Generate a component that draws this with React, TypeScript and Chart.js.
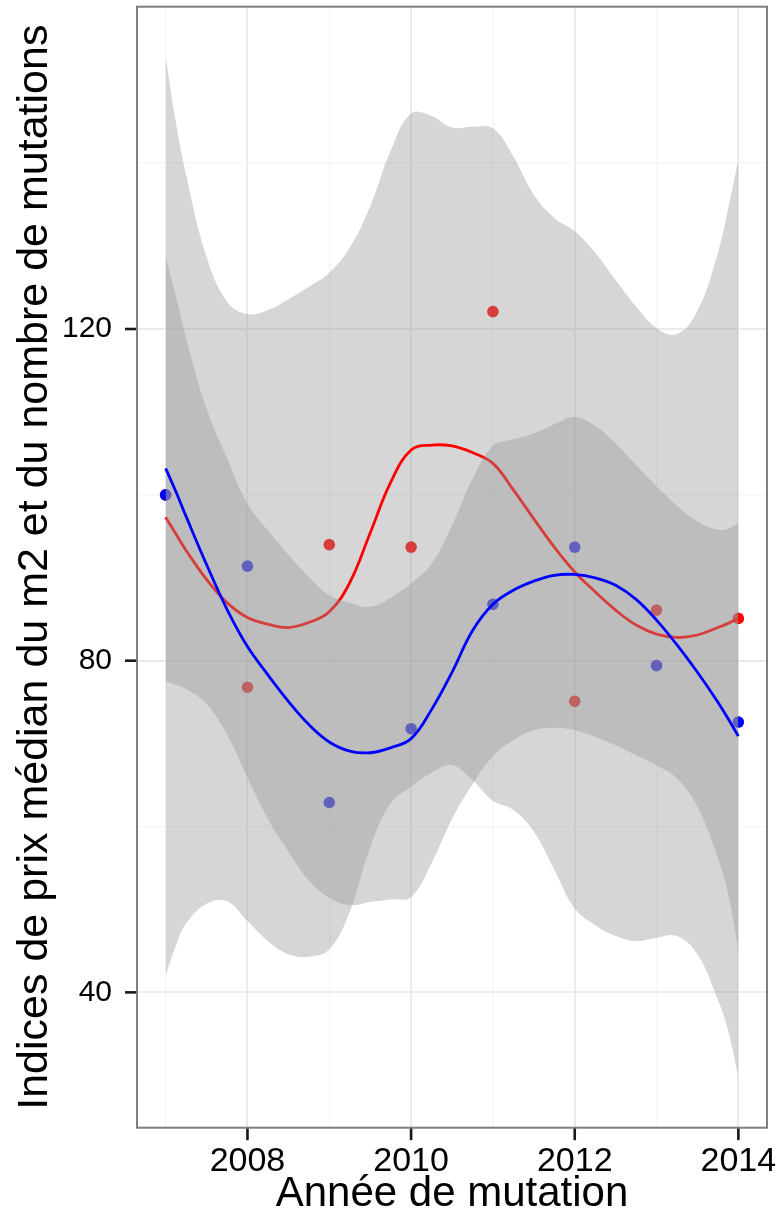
import React, { useEffect, useRef } from 'react';
import { Chart, registerables } from 'chart.js';

Chart.register(...registerables);

// ---- Data ----
const YEARS = [2007, 2008, 2009, 2010, 2011, 2012, 2013, 2014];
const SERIES_RED = [100, 76.8, 94.0, 93.7, 122.1, 75.1, 86.1, 85.1];
const SERIES_BLUE = [100, 91.4, 62.9, 71.8, 86.8, 93.7, 79.4, 72.6];

// x positions where the smoothed curves and their bands were read
const SMOOTH_X = [2007, 2007.125, 2007.25, 2007.5, 2007.75, 2008, 2008.25, 2008.5, 2008.75, 2009, 2009.25, 2009.5, 2009.75, 2010, 2010.25, 2010.5, 2010.75, 2011, 2011.25, 2011.5, 2011.75, 2012, 2012.25, 2012.5, 2012.75, 2013, 2013.25, 2013.5, 2013.75, 2013.875, 2014];

const RED_FIT = [97.3, 95.3, 93.3, 89.8, 87.0, 85.2, 84.4, 84.0, 84.6, 85.9, 89.4, 95.4, 101.5, 105.4, 106.0, 105.9, 105.1, 103.8, 100.6, 97.1, 93.7, 90.7, 88.3, 86.1, 84.3, 83.2, 82.8, 83.1, 84.0, 84.5, 85.1];
const RED_UPPER = [152.8, 144.9, 138.6, 128.7, 123.3, 121.8, 122.3, 123.6, 125.1, 126.8, 129.8, 134.8, 141.5, 146.0, 145.7, 144.3, 144.4, 144.2, 140.8, 136.2, 133.4, 131.8, 129.2, 125.9, 122.7, 120.1, 119.4, 122.2, 129.2, 134.5, 140.4];
const RED_LOWER = [42.1, 45.6, 48.3, 50.7, 51.0, 48.6, 46.2, 44.6, 44.3, 45.2, 49.7, 57.5, 62.8, 64.8, 66.5, 67.4, 65.6, 63.1, 62.0, 59.4, 54.8, 50.1, 48.1, 46.8, 46.2, 46.6, 46.8, 44.6, 39.1, 35.4, 29.8];

const BLUE_FIT = [103.2, 100.4, 97.4, 91.6, 86.2, 81.7, 78.3, 75.1, 72.3, 70.2, 69.1, 68.9, 69.5, 70.6, 74.1, 78.6, 83.6, 86.8, 88.5, 89.6, 90.3, 90.4, 90.0, 89.1, 87.4, 84.9, 81.9, 78.6, 75.0, 73.0, 70.9];
const BLUE_UPPER = [128.7, 124.0, 118.9, 110.4, 104.4, 98.9, 95.7, 92.8, 90.1, 87.9, 87.0, 86.5, 87.6, 89.3, 91.7, 96.3, 101.9, 105.9, 106.7, 107.4, 108.5, 109.4, 108.3, 106.2, 103.6, 101.0, 98.7, 96.8, 95.8, 95.9, 96.6];
const BLUE_LOWER = [77.5, 77.1, 76.6, 74.8, 71.1, 65.9, 60.9, 57.0, 53.5, 51.4, 50.5, 50.9, 51.2, 51.5, 55.6, 60.9, 65.1, 68.5, 70.4, 71.6, 71.9, 71.6, 70.8, 69.8, 68.6, 67.4, 65.8, 62.4, 56.2, 51.9, 45.1];

// ---- Axes ----
const X_TICKS = [2008, 2010, 2012, 2014];
const X_MINOR = [2007, 2009, 2011, 2013];
const Y_TICKS = [40, 80, 120];
const Y_MINOR = [60, 100, 140];
const X_MIN = 2006.65;
const X_MAX = 2014.35;
const Y_MIN = 23.68;
const Y_MAX = 158.87;
const X_TITLE = 'Année de mutation';
const Y_TITLE = 'Indices de prix médian du m2 et du nombre de mutations';

const FONT = '"Liberation Sans", Arial, Helvetica, sans-serif';
const RIBBON = 'rgba(153,153,153,0.4)';
const RED = '#FF0000';
const BLUE = '#0000FF';
const TICK_COLOR = '#1A1A1A';

const pts = (xs: number[], ys: number[]) => xs.map((x, i) => ({ x, y: ys[i] }));
const has = (arr: number[], v: number) => arr.some((a) => Math.abs(a - v) < 1e-6);

// panel frame + tick marks on the major breaks (positions from the scales)
const panelFrame = {
  id: 'panelFrame',
  afterDraw(chart: any) {
    const ctx = chart.ctx;
    const area = chart.chartArea;
    const xs = chart.scales.x;
    const ys = chart.scales.y;
    ctx.save();
    ctx.fillStyle = TICK_COLOR;
    for (const v of X_TICKS) {
      const px = xs.getPixelForValue(v);
      ctx.fillRect(px - 1.3, area.bottom, 2.6, 12.5);
    }
    for (const v of Y_TICKS) {
      const py = ys.getPixelForValue(v);
      ctx.fillRect(area.left - 12, py - 1.3, 12, 2.6);
    }
    ctx.strokeStyle = '#7F7F7F';
    ctx.lineWidth = 2;
    ctx.strokeRect(area.left, area.top, area.right - area.left, area.bottom - area.top);
    ctx.restore();
  },
};

export default function App() {
  const ref = useRef<HTMLCanvasElement | null>(null);

  useEffect(() => {
    if (!ref.current) return;
    const lineBase = {
      pointRadius: 0,
      pointHoverRadius: 0,
      tension: 0.4,
    };
    const chart = new Chart(ref.current, {
      type: 'line',
      data: {
        datasets: [
          {
            label: 'red points',
            data: pts(YEARS, SERIES_RED),
            showLine: false,
            pointRadius: 5.8,
            pointHoverRadius: 5.8,
            pointBackgroundColor: RED,
            pointBorderWidth: 0,
            borderColor: RED,
            order: 6,
          },
          {
            label: 'blue points',
            data: pts(YEARS, SERIES_BLUE),
            showLine: false,
            pointRadius: 5.8,
            pointHoverRadius: 5.8,
            pointBackgroundColor: BLUE,
            pointBorderWidth: 0,
            borderColor: BLUE,
            order: 5,
          },
          {
            label: 'red lower',
            data: pts(SMOOTH_X, RED_LOWER),
            ...lineBase,
            borderWidth: 0,
            borderColor: 'rgba(0,0,0,0)',
            fill: false,
            order: 4,
          },
          {
            label: 'red upper',
            data: pts(SMOOTH_X, RED_UPPER),
            ...lineBase,
            borderWidth: 0,
            borderColor: 'rgba(0,0,0,0)',
            backgroundColor: RIBBON,
            fill: '-1',
            order: 4,
          },
          {
            label: 'red fit',
            data: pts(SMOOTH_X, RED_FIT),
            ...lineBase,
            borderWidth: 2.8,
            borderColor: RED,
            fill: false,
            order: 3,
          },
          {
            label: 'blue lower',
            data: pts(SMOOTH_X, BLUE_LOWER),
            ...lineBase,
            borderWidth: 0,
            borderColor: 'rgba(0,0,0,0)',
            fill: false,
            order: 2,
          },
          {
            label: 'blue upper',
            data: pts(SMOOTH_X, BLUE_UPPER),
            ...lineBase,
            borderWidth: 0,
            borderColor: 'rgba(0,0,0,0)',
            backgroundColor: RIBBON,
            fill: '-1',
            order: 2,
          },
          {
            label: 'blue fit',
            data: pts(SMOOTH_X, BLUE_FIT),
            ...lineBase,
            borderWidth: 2.8,
            borderColor: BLUE,
            fill: false,
            order: 1,
          },
        ],
      },
      options: {
        responsive: false,
        animation: false,
        events: [],
        layout: { padding: { left: 0, right: 16, top: 6.7, bottom: 0 } },
        plugins: {
          legend: { display: false },
          tooltip: { enabled: false },
        },
        scales: {
          x: {
            type: 'linear',
            min: X_MIN,
            max: X_MAX,
            afterBuildTicks: (s: any) => {
              s.ticks = [...X_MINOR, ...X_TICKS].sort((a, b) => a - b).map((v) => ({ value: v }));
            },
            afterFit: (s: any) => {
              s.height = 92.3;
              s.paddingLeft = 0;
              s.paddingRight = 0;
            },
            border: { display: false },
            grid: {
              color: (c: any) => (c.tick && has(X_TICKS, c.tick.value) ? '#EBEBEB' : '#F6F6F6'),
              lineWidth: (c: any) => (c.tick && has(X_TICKS, c.tick.value) ? 2 : 1.5),
              drawTicks: true,
              tickLength: 12,
              tickColor: 'rgba(0,0,0,0)',
            },
            ticks: {
              autoSkip: false,
              maxRotation: 0,
              minRotation: 0,
              padding: 1.5,
              color: '#000000',
              font: { family: FONT, size: 34, lineHeight: 1.2 },
              callback: (v: any) => (has(X_TICKS, Number(v)) ? String(v) : ''),
            },
            title: {
              display: true,
              text: X_TITLE,
              color: '#000000',
              font: { family: FONT, size: 42, lineHeight: 1.2 },
              padding: { top: 0, bottom: 0 },
            },
          },
          y: {
            type: 'linear',
            min: Y_MIN,
            max: Y_MAX,
            afterBuildTicks: (s: any) => {
              s.ticks = [...Y_MINOR, ...Y_TICKS].sort((a, b) => a - b).map((v) => ({ value: v }));
            },
            afterFit: (s: any) => {
              s.width = 137;
              s.paddingTop = 0;
              s.paddingBottom = 0;
            },
            border: { display: false },
            grid: {
              color: (c: any) => (c.tick && has(Y_TICKS, c.tick.value) ? '#EBEBEB' : '#F6F6F6'),
              lineWidth: (c: any) => (c.tick && has(Y_TICKS, c.tick.value) ? 2 : 1.5),
              drawTicks: true,
              tickLength: 12,
              tickColor: 'rgba(0,0,0,0)',
            },
            ticks: {
              autoSkip: false,
              padding: 13,
              color: '#000000',
              font: { family: FONT, size: 30, lineHeight: 1.2 },
              callback: (v: any) => (has(Y_TICKS, Number(v)) ? String(v) : ''),
            },
            title: {
              display: true,
              text: Y_TITLE,
              color: '#000000',
              font: { family: FONT, size: 43, lineHeight: 1.2 },
              padding: { top: 9.3, bottom: 0 },
            },
          },
        },
      },
      plugins: [panelFrame],
    } as any);
    return () => chart.destroy();
  }, []);

  return (
    <div style={{ position: 'absolute', left: 0, top: 0, width: 783, height: 1220, background: '#ffffff' }}>
      <canvas ref={ref} width={783} height={1220} style={{ display: 'block' }} />
    </div>
  );
}
